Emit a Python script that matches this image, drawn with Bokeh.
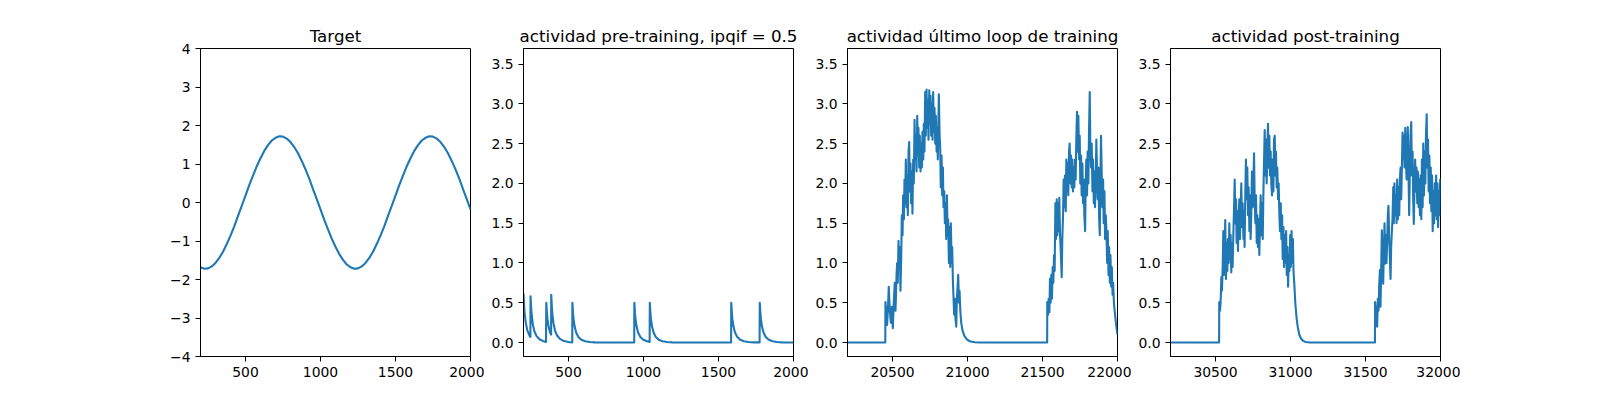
from bokeh.plotting import figure
from bokeh.layouts import row
from bokeh.models import Range1d, FixedTicker
from bokeh.embed import file_html
from bokeh.resources import INLINE

# ---- data ----
target_x = [200, 225, 250, 275, 300, 325, 350, 375, 400, 425, 450, 475, 500, 525,
            550, 575, 600, 625, 650, 675, 700, 725, 750, 775, 800, 825, 850, 875,
            900, 925, 950, 975, 1000, 1025, 1050, 1075, 1100, 1125, 1150, 1175,
            1200, 1225, 1250, 1275, 1300, 1325, 1350, 1375, 1400, 1425, 1450, 1475,
            1500, 1525, 1550, 1575, 1600, 1625, 1650, 1675, 1700, 1725, 1750, 1775,
            1800, 1825, 1850, 1875, 1900, 1925, 1950, 1975, 2000]
target_y = [-1.68, -1.72, -1.71, -1.66, -1.57, -1.44, -1.28, -1.08, -0.86, -0.62,
            -0.35, -0.09, 0.18, 0.45, 0.70, 0.94, 1.15, 1.34, 1.49, 1.61, 1.68,
            1.72, 1.71, 1.66, 1.57, 1.44, 1.28, 1.08, 0.86, 0.62, 0.35, 0.09,
            -0.18, -0.45, -0.70, -0.94, -1.15, -1.34, -1.49, -1.61, -1.68, -1.72,
            -1.71, -1.66, -1.57, -1.44, -1.28, -1.08, -0.86, -0.62, -0.35, -0.09,
            0.18, 0.45, 0.70, 0.94, 1.15, 1.34, 1.49, 1.61, 1.68, 1.72, 1.71,
            1.66, 1.57, 1.44, 1.28, 1.08, 0.86, 0.62, 0.35, 0.09, -0.18]

pre_x = [200, 204, 208, 215, 225, 240, 246,
         247, 251, 255, 262, 272, 287, 307, 332, 350,
         352, 356, 360, 367, 377, 384,
         385, 389, 393, 400, 410, 425, 445, 470, 500, 525,
         526, 530, 534, 541, 551, 566, 586, 611, 641, 676, 720, 938,
         939, 943, 947, 954, 964, 979, 999, 1024, 1041,
         1042, 1046, 1050, 1057, 1067, 1082, 1102, 1127, 1157, 1192, 1240, 1584,
         1585, 1589, 1593, 1600, 1610, 1625, 1645, 1670, 1700, 1735, 1774,
         1775, 1779, 1783, 1790, 1800, 1815, 1835, 1860, 1890, 1925, 1975, 2000]
pre_y = [0.62, 0.47, 0.36, 0.25, 0.155, 0.087, 0.07,
         0.58, 0.44, 0.34, 0.23, 0.145, 0.08, 0.04, 0.017, 0.008,
         0.50, 0.375, 0.29, 0.20, 0.125, 0.10,
         0.60, 0.45, 0.35, 0.24, 0.15, 0.084, 0.042, 0.018, 0.007, 0.002,
         0.50, 0.375, 0.29, 0.20, 0.125, 0.07, 0.035, 0.015, 0.006, 0.002, 0.0, 0.0,
         0.50, 0.375, 0.29, 0.20, 0.125, 0.07, 0.035, 0.015, 0.008,
         0.50, 0.375, 0.29, 0.20, 0.125, 0.07, 0.035, 0.015, 0.006, 0.002, 0.0, 0.0,
         0.50, 0.375, 0.29, 0.20, 0.125, 0.07, 0.035, 0.015, 0.006, 0.002, 0.001,
         0.50, 0.375, 0.29, 0.20, 0.125, 0.07, 0.035, 0.015, 0.006, 0.002, 0.0, 0.0]

last_x = [20200, 20452,
          20453, 20460, 20464, 20471, 20475, 20482, 20489, 20495, 20502, 20509,
          20515, 20520, 20527, 20531, 20535, 20540, 20544, 20549, 20553, 20558,
          20562, 20567, 20571, 20576, 20580, 20584, 20589, 20593, 20598, 20602,
          20607, 20611, 20616, 20620, 20624, 20629, 20633, 20638, 20642, 20647,
          20651, 20656, 20660, 20665, 20669, 20673, 20678, 20682, 20687, 20691,
          20696, 20700, 20705, 20709, 20713, 20718, 20722, 20727, 20731, 20736,
          20740, 20745, 20749, 20754, 20758, 20762, 20767, 20771, 20776, 20780,
          20785, 20789, 20794, 20798, 20802, 20809, 20814, 20818, 20822, 20827,
          20831, 20836, 20840, 20845, 20849, 20854, 20858, 20863, 20867, 20871,
          20876, 20880, 20885, 20889, 20894, 20898, 20903, 20907, 20911, 20916,
          20920, 20925, 20929, 20934, 20938, 20943, 20947, 20952, 20958, 20967,
          20980, 20998, 21020, 21050, 21080, 21531,
          21532, 21537, 21541, 21546, 21550, 21554, 21559, 21563, 21568, 21572,
          21577, 21581, 21586, 21590, 21595, 21599, 21603, 21608, 21612, 21617,
          21623, 21628, 21632, 21637, 21641, 21646, 21650, 21655, 21659, 21664,
          21668, 21672, 21677, 21681, 21686, 21690, 21695, 21699, 21703, 21708,
          21712, 21717, 21721, 21726, 21730, 21735, 21739, 21744, 21748, 21752,
          21757, 21761, 21766, 21770, 21775, 21779, 21784, 21788, 21792, 21797,
          21801, 21806, 21810, 21815, 21819, 21824, 21828, 21833, 21837, 21842,
          21846, 21850, 21855, 21859, 21864, 21868, 21873, 21877, 21882, 21886,
          21890, 21895, 21899, 21904, 21908, 21913, 21917, 21922, 21926, 21931,
          21935, 21940, 21944, 21949, 21953, 21958, 21962, 21967, 21971, 21976,
          21982, 21988, 21994, 22000]
last_y = [0.0, 0.0,
          0.51, 0.35, 0.22, 0.48, 0.70, 0.40, 0.25, 0.45, 0.18, 0.52,
          0.75, 0.40, 0.85, 1.00, 0.75, 1.28, 0.95, 1.20, 0.65, 1.05,
          1.60, 1.35, 1.85, 1.55, 2.05, 1.75, 2.30, 1.70, 2.10, 1.60,
          2.40, 2.52, 1.90, 2.25, 1.75, 2.15, 1.62, 2.30, 2.00, 2.80,
          2.30, 2.60, 2.15, 2.85, 2.35, 2.70, 2.20, 2.60, 2.15, 2.50,
          2.20, 2.65, 2.30, 2.75, 2.40, 3.15, 2.60, 3.18, 2.70, 3.05,
          2.55, 3.17, 2.75, 3.10, 2.60, 3.00, 2.55, 3.15, 2.65, 2.95,
          2.50, 2.85, 2.40, 2.70, 2.30, 3.12, 2.60, 2.45, 1.95, 2.35,
          1.85, 2.20, 1.70, 1.90, 1.50, 1.75, 1.30, 1.85, 1.35, 1.55,
          1.00, 1.45, 0.95, 1.50, 1.00, 1.20, 0.75, 0.55, 0.35, 0.55,
          0.30, 0.20, 0.55, 0.70, 0.85, 0.50, 0.65, 0.40, 0.25, 0.15,
          0.08, 0.035, 0.012, 0.004, 0.0, 0.0,
          0.51, 0.35, 0.55, 0.38, 0.80, 0.50, 0.85, 0.55, 0.95, 0.75,
          1.10, 0.90, 1.75, 1.30, 1.80, 1.35, 1.75, 1.40, 1.82, 1.35,
          1.10, 0.82, 1.30, 1.60, 2.05, 1.70, 2.10, 1.65, 2.30, 1.90,
          2.25, 1.85, 2.40, 2.50, 2.00, 2.35, 1.95, 2.30, 1.90, 2.20,
          1.95, 2.30, 2.05, 2.60, 2.90, 2.40, 2.85, 2.30, 2.60, 2.00,
          2.35, 1.85, 2.25, 1.75, 2.05, 1.60, 1.40, 2.00, 2.30, 1.85,
          2.40, 2.00, 2.65, 3.15, 2.45, 2.20, 2.50, 1.90, 2.30, 1.75,
          2.15, 1.70, 2.05, 2.55, 2.10, 1.80, 2.20, 1.60, 1.35, 2.00,
          2.60, 2.10, 1.70, 2.05, 1.50, 1.90, 1.30, 1.60, 1.40, 1.00,
          1.40, 0.85, 1.20, 0.75, 1.10, 0.70, 0.95, 0.60, 0.75, 0.50,
          0.38, 0.27, 0.18, 0.10]

post_x = [30200, 30524,
          30525, 30530, 30534, 30539, 30543, 30548, 30552, 30557, 30561, 30565,
          30570, 30574, 30579, 30583, 30588, 30592, 30597, 30601, 30605, 30610,
          30614, 30619, 30623, 30628, 30632, 30637, 30641, 30646, 30650, 30654,
          30659, 30663, 30668, 30672, 30677, 30681, 30686, 30690, 30694, 30699,
          30703, 30708, 30712, 30717, 30721, 30726, 30730, 30734, 30739, 30743,
          30748, 30752, 30757, 30761, 30766, 30770, 30775, 30779, 30783, 30788,
          30792, 30797, 30801, 30806, 30810, 30815, 30819, 30824, 30828, 30832,
          30837, 30841, 30846, 30850, 30855, 30859, 30863, 30868, 30872, 30877,
          30881, 30886, 30890, 30895, 30899, 30903, 30908, 30912, 30917, 30921,
          30926, 30930, 30935, 30939, 30944, 30948, 30953, 30957, 30962, 30966,
          30971, 30975, 30980, 30984, 30989, 30993, 30998, 31002, 31007, 31011,
          31016, 31020, 31025, 31032, 31040, 31048, 31058, 31070, 31085, 31100,
          31130, 31563,
          31564, 31569, 31573, 31578, 31582, 31587, 31591, 31596, 31600, 31604,
          31609, 31613, 31618, 31622, 31627, 31631, 31636, 31640, 31644, 31649,
          31653, 31658, 31662, 31667, 31671, 31676, 31680, 31685, 31689, 31693,
          31698, 31702, 31707, 31711, 31716, 31720, 31725, 31729, 31734, 31738,
          31742, 31747, 31751, 31756, 31760, 31765, 31769, 31774, 31778, 31782,
          31787, 31791, 31796, 31800, 31805, 31809, 31814, 31818, 31822, 31827,
          31831, 31836, 31840, 31845, 31849, 31854, 31858, 31863, 31867, 31872,
          31876, 31881, 31885, 31890, 31894, 31899, 31903, 31908, 31912, 31917,
          31921, 31926, 31930, 31935, 31939, 31944, 31948, 31953, 31957, 31962,
          31966, 31971, 31975, 31980, 31984, 31989, 31993, 31998, 32000]
post_y = [0.0, 0.0,
          0.51, 0.40, 0.50, 0.82, 0.65, 0.95, 1.40, 0.85, 1.20, 1.54,
          0.80, 1.25, 0.90, 1.30, 1.00, 1.50, 1.05, 1.35, 0.88, 1.25,
          0.95, 1.35, 1.65, 2.05, 1.50, 1.80, 1.25, 1.65, 1.15, 1.60,
          1.80, 1.30, 1.70, 2.00, 1.45, 1.75, 1.30, 1.65, 1.20, 1.90,
          2.30, 1.80, 2.20, 1.60, 1.95, 1.40, 1.85, 1.30, 1.65, 2.15,
          1.70, 2.00, 2.38, 1.80, 1.50, 1.85, 1.25, 1.60, 1.20, 1.55,
          1.10, 1.50, 1.85, 1.35, 1.75, 1.30, 1.85, 2.30, 2.67, 2.10,
          2.55, 2.00, 2.45, 2.75, 2.20, 2.60, 2.10, 2.40, 2.00, 1.85,
          2.30, 1.90, 2.55, 2.60, 2.10, 2.40, 1.95, 2.20, 1.80, 2.00,
          1.60, 1.40, 1.75, 1.30, 1.60, 1.05, 1.45, 0.95, 1.35, 1.00,
          1.40, 0.85, 1.20, 0.70, 1.10, 0.90, 1.35, 0.95, 1.40, 1.00,
          1.30, 0.90, 0.75, 0.50, 0.32, 0.20, 0.10, 0.05, 0.02, 0.007,
          0.0, 0.0,
          0.51, 0.40, 0.30, 0.20, 0.55, 0.40, 0.70, 0.91, 0.45, 0.85,
          1.41, 1.00, 0.74, 1.15, 1.50, 0.99, 1.35, 1.00, 1.25, 1.60,
          1.72, 1.30, 1.10, 0.80, 1.20, 1.40, 1.55, 1.95, 1.50, 2.00,
          1.60, 1.85, 1.50, 2.05, 1.55, 1.95, 1.60, 2.05, 2.20, 1.80,
          2.15, 2.64, 2.30, 2.60, 2.20, 2.70, 2.30, 2.05, 2.50, 2.71,
          2.10, 1.60, 2.20, 2.60, 2.77, 2.10, 2.40, 1.80, 1.49, 2.00,
          2.30, 1.90, 2.20, 1.75, 2.15, 1.70, 2.05, 1.60, 2.10, 1.55,
          2.30, 1.70, 2.50, 1.85, 2.40, 2.00, 2.60, 2.87, 2.20, 2.55,
          1.90, 2.35, 1.75, 2.20, 1.65, 2.10, 1.40, 1.90, 1.50, 2.00,
          1.60, 2.10, 1.55, 2.00, 1.45, 1.90, 1.60, 2.05, 1.90]

titles = ["Target", "actividad pre-training, ipqif = 0.5",
          "actividad último loop de training", "actividad post-training"]
act_ticks = [0.0, 0.5, 1.0, 1.5, 2.0, 2.5, 3.0, 3.5]
target_ticks = [-4, -3, -2, -1, 0, 1, 2, 3, 4]

BLUE = "#1f77b4"
FONT = "DejaVu Sans"


def panel(title, xs, ys, xr, yr, xticks, yticks, ylabels, left, right):
    p = figure(width=left + 270 + right, height=392,
               x_range=Range1d(*xr), y_range=Range1d(*yr),
               output_backend="svg", toolbar_location=None, tools="",
               min_border_left=left, min_border_right=right,
               min_border_top=48, min_border_bottom=36, title=title)
    p.title.text_font = FONT
    p.title.text_font_size = "16.7px"
    p.title.text_font_style = "normal"
    p.title.text_color = "black"
    p.title.align = "center"
    p.title.standoff = 6
    p.grid.visible = False
    p.outline_line_color = "black"
    p.outline_line_width = 1
    p.xaxis.ticker = FixedTicker(ticks=xticks)
    p.yaxis.ticker = FixedTicker(ticks=yticks)
    p.xaxis.major_label_overrides = {t: str(t) for t in xticks}
    p.yaxis.major_label_overrides = dict(zip(yticks, ylabels))
    for ax in (p.xaxis, p.yaxis):
        ax.major_label_text_font = FONT
        ax.major_label_text_font_size = "13.9px"
        ax.major_label_text_color = "black"
        ax.major_tick_in = 0
        ax.major_tick_out = 5
        ax.minor_tick_out = 0
        ax.minor_tick_in = 0
        ax.major_tick_line_color = "black"
        ax.axis_line_color = "black"
        ax.major_label_standoff = 5
    p.line(xs, ys, line_color=BLUE, line_width=2.1, line_join="round")
    return p


act_range = (-0.176, 3.696)
act_labels = ["%.1f" % t for t in act_ticks]
target_labels = [str(t).replace("-", "\u2212") for t in target_ticks]

p1 = panel(titles[0], target_x, target_y, (200, 2000), (-4, 4),
           [500, 1000, 1500, 2000], target_ticks, target_labels, 200, 14)
p2 = panel(titles[1], pre_x, pre_y, (200, 2000), act_range,
           [500, 1000, 1500, 2000], act_ticks, act_labels, 39, 15)
p3 = panel(titles[2], last_x, last_y, (20200, 22000), act_range,
           [20500, 21000, 21500, 22000], act_ticks, act_labels, 39, 14)
p4 = panel(titles[3], post_x, post_y, (30200, 32000), act_range,
           [30500, 31000, 31500, 32000], act_ticks, act_labels, 39, 20)

layout = row(p1, p2, p3, p4)
open("out.html", "w").write(file_html(layout, INLINE))
